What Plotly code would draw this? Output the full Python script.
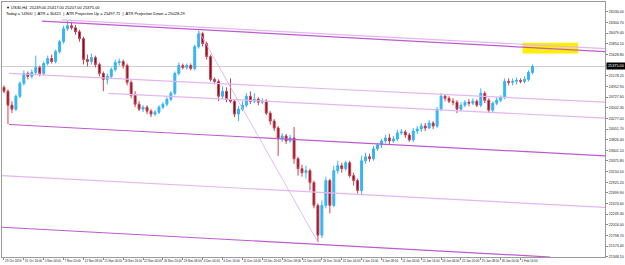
import plotly.graph_objects as go

# ---------------- data (US30 H4) ----------------
opens = [24934, 24850, 24556, 24472, 24745, 25018, 25228, 25165, 25249, 25354,
         25228, 25438, 25543, 25480, 25690, 25900, 26173, 26236, 26194, 26110,
         25963, 25522, 25480, 25564, 25417, 25228, 25102, 25165, 25312, 25459,
         25480, 25396, 25039, 24766, 24577, 24472, 24514, 24430, 24367, 24409,
         24514, 24577, 24682, 24808, 25228, 25396, 25354, 25396, 25333, 25795,
         26068, 25858, 25585, 25102, 25060, 24745, 24850, 24682, 24640, 24367,
         24472, 24556, 24745, 24640, 24682, 24619, 24640, 24388, 24220, 24073,
         23842, 23905, 23800, 23863, 23422, 23212, 23128, 23170, 22918, 22435,
         21805, 22435, 22960, 22435, 23170, 23275, 23212, 23338, 23065, 22960,
         22750, 23380, 23464, 23422, 23632, 23716, 23800, 23863, 23800, 23842,
         23968, 23989, 23926, 23821, 24010, 24052, 24115, 24073, 24178, 24115,
         24472, 24745, 24703, 24640, 24619, 24472, 24556, 24619, 24598, 24640,
         24556, 24808, 24661, 24451, 24598, 24661, 24724, 25060, 25039, 25060,
         25081, 25060, 25102, 25249]
highs = [24976, 24892, 24640, 24787, 25060, 25291, 25270, 25312, 25606, 25396,
         25480, 25606, 25627, 25732, 25942, 26236, 26341, 26320, 26257, 26152,
         26005, 25627, 25648, 25606, 25459, 25270, 25228, 25354, 25522, 25543,
         25522, 25438, 25081, 24850, 24640, 24556, 24556, 24472, 24451, 24556,
         24619, 24724, 24850, 25270, 25459, 25438, 25438, 25438, 25837, 26131,
         26110, 25900, 25627, 25144, 25102, 24955, 24934, 25123, 24682, 24535,
         24640, 24808, 24850, 24808, 24724, 24703, 24682, 24430, 24262, 24115,
         23968, 23947, 23926, 24094, 23464, 23296, 23275, 23212, 22960, 22477,
         22540, 23044, 23002, 23275, 23380, 23338, 23380, 23380, 23128, 23002,
         23485, 23548, 23527, 23695, 23758, 23842, 23926, 23947, 23905, 24031,
         24052, 24031, 23968, 24073, 24115, 24178, 24178, 24241, 24220, 24514,
         24808, 24787, 24745, 24703, 24661, 24619, 24661, 24682, 24703, 24682,
         24913, 24850, 24703, 24640, 24724, 24766, 25123, 25123, 25123, 25144,
         25123, 25165, 25291, 25417]
lows = [24808, 24157, 24388, 24430, 24703, 24976, 25102, 25123, 25207, 25165,
        25186, 25396, 25438, 25438, 25648, 25858, 26131, 26152, 26047, 25900,
        25417, 25375, 25417, 25354, 25165, 24850, 24997, 25123, 25270, 25396,
        25333, 24976, 24703, 24514, 24430, 24409, 24367, 24304, 24325, 24367,
        24472, 24535, 24640, 24766, 25186, 25312, 25312, 25291, 25291, 25753,
        25795, 25522, 25060, 24997, 24640, 24682, 24619, 24598, 24304, 24220,
        24430, 24514, 24577, 24598, 24556, 24577, 24346, 24136, 24010, 23485,
        23779, 23737, 23758, 23317, 23065, 23044, 23002, 22750, 22372, 21658,
        21742, 22372, 22267, 22393, 23107, 23128, 23170, 23023, 22855, 22687,
        22645, 23317, 23359, 23380, 23590, 23653, 23758, 23737, 23758, 23800,
        23926, 23863, 23779, 23779, 23947, 23989, 24010, 24052, 24052, 24073,
        24430, 24640, 24598, 24556, 24388, 24430, 24514, 24535, 24556, 24514,
        24514, 24598, 24388, 24409, 24556, 24619, 24682, 24976, 24976, 24997,
        25018, 25018, 25060, 25207]
closes = [24850, 24556, 24472, 24745, 25018, 25228, 25165, 25249, 25354, 25228,
          25438, 25543, 25480, 25690, 25900, 26173, 26236, 26194, 26110, 25963,
          25522, 25480, 25564, 25417, 25228, 25102, 25165, 25312, 25459, 25480,
          25396, 25039, 24766, 24577, 24472, 24514, 24430, 24367, 24409, 24514,
          24577, 24682, 24808, 25228, 25396, 25354, 25396, 25333, 25795, 26068,
          25858, 25585, 25102, 25060, 24745, 24850, 24682, 24640, 24367, 24472,
          24556, 24745, 24640, 24682, 24619, 24640, 24388, 24220, 24073, 23842,
          23905, 23800, 23863, 23422, 23212, 23128, 23170, 22918, 22435, 21805,
          22435, 22960, 22435, 23170, 23275, 23212, 23338, 23065, 22960, 22750,
          23380, 23464, 23422, 23632, 23716, 23800, 23863, 23800, 23842, 23968,
          23989, 23926, 23821, 24010, 24052, 24115, 24073, 24178, 24115, 24472,
          24745, 24703, 24640, 24619, 24472, 24556, 24619, 24598, 24640, 24556,
          24808, 24661, 24451, 24598, 24661, 24724, 25060, 25039, 25060, 25081,
          25060, 25102, 25249, 25375]

date_labels = ["29 Oct 2018", "31 Oct 16:00", "5 Nov 04:00", "7 Nov 20:00", "12 Nov 08:00",
               "15 Nov 00:00", "19 Nov 16:00", "22 Nov 04:00", "26 Nov 20:00", "29 Nov 08:00",
               "4 Dec 00:00", "6 Dec 16:00", "11 Dec 04:00", "13 Dec 20:00", "18 Dec 08:00",
               "21 Dec 00:00", "26 Dec 16:00", "31 Dec 04:00", "3 Jan 20:00", "8 Jan 08:00",
               "11 Jan 00:00", "15 Jan 16:00", "18 Jan 04:00", "22 Jan 20:00", "25 Jan 08:00",
               "30 Jan 00:00", "1 Feb 16:00"]
label_every = 5

price_ticks = [26530.0, 26304.7, 26079.4, 25854.1, 25628.8, 25403.5, 25178.2, 24952.9,
               24727.6, 24502.3, 24277.0, 24051.7, 23826.4, 23601.1, 23375.8, 23150.5,
               22925.2, 22699.9, 22474.6, 22249.3, 22024.0, 21798.7, 21573.4, 21348.1]

# trend / channel lines: (bar0, price0, bar1, price1, style)
channel_lines = [
    (9.5, 26337, 151.25, 25690, "dark"),
    (14.5, 26362, 151.25, 25753, "light"),
    (1.25, 25228, 151.25, 24619, "light"),
    (26.25, 24808, 151.25, 24283, "light"),
    (1.25, 24147, 151.25, 23485, "dark"),
    (-0.5, 23065, 151.25, 22393, "light"),
    (-0.5, 21973, 137.5, 21343, "dark"),
    (49, 26131, 79, 21658, "diag"),
]
atr_zone = (130.5, 25648, 144.5, 25879)

header_1 = "\u25bc US30,H4  25249.00 25417.00 25207.00 25375.00"
header_2 = ("Today = 14900  |  ATR = 30421  |  ATR Projection Up = 25497.71  |  "
            "ATR Projection Down = 25028.29")

# ---------------- figure ----------------
bars = list(range(len(closes)))
x_min, x_max = -0.5, 151.25
y_min, y_max = 21343, 26740

fig = go.Figure()
fig.add_trace(go.Candlestick(
    x=bars, open=opens, high=highs, low=lows, close=closes,
    increasing=dict(line=dict(color="#36B4F4", width=1), fillcolor="#36B4F4"),
    decreasing=dict(line=dict(color="#C84252", width=1), fillcolor="#7A0A16"),
    whiskerwidth=0, showlegend=False, hoverinfo="skip",
))

styles = {
    "dark": dict(color="#BD5AD2", width=1.2),
    "light": dict(color="#E2B6F0", width=1.2),
    "diag": dict(color="#DDAAE8", width=0.8),
}
shapes = []
# current price line
shapes.append(dict(type="line", xref="paper", yref="y", x0=0, x1=1,
                   y0=closes[-1], y1=closes[-1],
                   line=dict(color="#CFCFCF", width=1), layer="below"))
# ATR projection zone
shapes.append(dict(type="rect", xref="x", yref="y",
                   x0=atr_zone[0], y0=atr_zone[1], x1=atr_zone[2], y1=atr_zone[3],
                   fillcolor="#FFEE00", line=dict(width=0), layer="below"))
for b0, p0, b1, p1, st in channel_lines:
    shapes.append(dict(type="line", xref="x", yref="y", x0=b0, y0=p0, x1=b1, y1=p1,
                       line=styles[st], layer="above"))

annotations = [
    dict(xref="paper", yref="paper", x=0.003, y=0.998, xanchor="left", yanchor="top",
         text=header_1, showarrow=False, font=dict(size=4, color="#000000"), yshift=0),
    dict(xref="paper", yref="paper", x=0.003, y=0.998, xanchor="left", yanchor="top",
         text=header_2, showarrow=False, font=dict(size=4, color="#000000"), yshift=-6),
    dict(xref="paper", yref="y", x=1, y=closes[-1], xanchor="left", yanchor="middle",
         text=f"{closes[-1]:.2f}", showarrow=False, bgcolor="#000000",
         font=dict(size=3.8, color="#FFFFFF"), borderpad=1, xshift=1),
]

fig.update_layout(
    width=625, height=265, autosize=False,
    margin=dict(l=1, r=18, t=1, b=8),
    paper_bgcolor="#FFFFFF", plot_bgcolor="#FFFFFF",
    font=dict(family="Liberation Sans, Arial, sans-serif", size=4, color="#222222"),
    shapes=shapes, annotations=annotations,
    xaxis=dict(range=[x_min, x_max], rangeslider=dict(visible=False),
               tickvals=[i * label_every for i in range(len(date_labels))],
               ticktext=date_labels, ticklabelposition="outside right", tickangle=0,
               tickfont=dict(size=3.0, color="#222222"), ticks="outside", ticklen=2,
               tickcolor="#888888", showgrid=False, zeroline=False,
               showline=True, linecolor="#9A9A9A", linewidth=1, mirror=True),
    yaxis=dict(range=[y_min, y_max], side="right",
               tickvals=price_ticks, ticktext=[f"{v:.2f}" for v in price_ticks],
               tickfont=dict(size=3.6, color="#222222"), ticks="outside", ticklen=2,
               tickcolor="#888888", showgrid=False, zeroline=False,
               showline=True, linecolor="#9A9A9A", linewidth=1, mirror=True),
)

fig.write_html("out.html")
